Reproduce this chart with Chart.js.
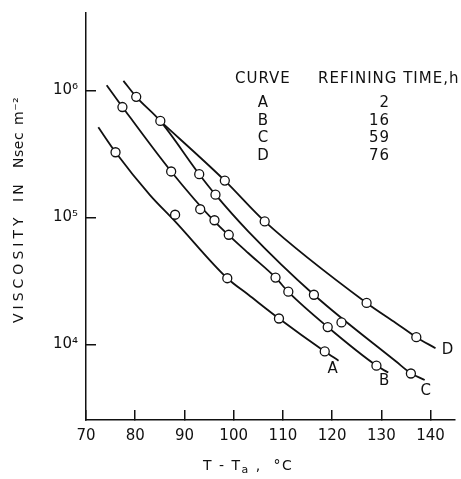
<!DOCTYPE html>
<html>
<head>
<meta charset="utf-8">
<script src="https://cdn.jsdelivr.net/npm/chart.js@4.4.1/dist/chart.umd.min.js"></script>
<style>
  html, body { margin: 0; padding: 0; background: #fff; }
  #wrap { width: 461px; height: 479px; position: relative; }
</style>
</head>
<body>
<div id="wrap"><canvas id="c" width="461" height="479"></canvas></div>
<script>
// ---- data ----
const curveNames = ['A', 'B', 'C', 'D'];
const refiningTimes = [2, 16, 59, 76];

const xTickValues = [70, 80, 90, 100, 110, 120, 130, 140];
const yTickValues = [1e4, 1e5, 1e6];
const yTickLabels = ['10⁴', '10⁵', '10⁶'];

// measured points (T - Tg in °C, viscosity in N s m^-2)
const aPtTemp = [76.0, 88.1, 98.7, 109.2, 118.5];
const aPtVisc = [3.26e5, 1.05e5, 3.32e4, 1.60e4, 8.8e3];
const bPtTemp = [77.4, 87.3, 93.2, 96.1, 99.0, 108.5, 111.1, 119.1, 129.0];
const bPtVisc = [7.4e5, 2.3e5, 1.16e5, 9.5e4, 7.3e4, 3.36e4, 2.6e4, 1.37e4, 6.8e3];
const cPtTemp = [80.2, 85.1, 93.0, 96.3, 116.3, 121.9, 136.0];
const cPtVisc = [8.9e5, 5.75e5, 2.19e5, 1.51e5, 2.46e4, 1.49e4, 5.9e3];
const dPtTemp = [98.2, 106.3, 127.0, 137.1];
const dPtVisc = [1.95e5, 9.3e4, 2.12e4, 1.14e4];

// drawn smooth curves
const aCurveTemp = [72.5, 76.0, 83.0, 88.0, 98.7, 103.0, 109.2, 118.5, 121.3];
const aCurveVisc = [5.13e5, 3.26e5, 1.5e5, 9.4e4, 3.32e4, 2.46e4, 1.6e4, 8.8e3, 7.45e3];
const bCurveTemp = [74.2, 77.4, 87.3, 96.1, 103.0, 108.5, 111.1, 119.1, 129.0, 131.4];
const bCurveVisc = [1.10e6, 7.41e5, 2.30e5, 9.3e4, 5.22e4, 3.36e4, 2.59e4, 1.37e4, 6.81e3, 6.0e3];
const cCurveTemp = [77.6, 80.2, 85.1, 93.0, 96.3, 103.0, 116.3, 133.0, 136.0, 138.8];
const cCurveVisc = [1.19e6, 8.9e5, 5.73e5, 2.19e5, 1.51e5, 7.73e4, 2.46e4, 7.33e3, 5.93e3, 5.25e3];
const dCurveTemp = [85.1, 98.2, 106.3, 127.0, 133.0, 137.1, 141.0];
const dCurveVisc = [5.73e5, 1.95e5, 9.31e4, 2.12e4, 1.47e4, 1.14e4, 9.33e3];

// ---- build datasets ----
const zip = (xs, ys) => xs.map((x, i) => ({ x: x, y: ys[i] }));
const ptSets = [[aPtTemp, aPtVisc], [bPtTemp, bPtVisc], [cPtTemp, cPtVisc], [dPtTemp, dPtVisc]];
const curveSets = [[aCurveTemp, aCurveVisc], [bCurveTemp, bCurveVisc], [cCurveTemp, cCurveVisc], [dCurveTemp, dCurveVisc]];

const datasets = [];
curveSets.forEach((s, i) => datasets.push({
  label: 'Curve ' + curveNames[i],
  data: zip(s[0], s[1]),
  showLine: true,
  borderColor: '#111',
  borderWidth: 1.8,
  pointRadius: 0,
  cubicInterpolationMode: 'monotone',
  order: 1
}));
ptSets.forEach((s, i) => datasets.push({
  label: 'Data ' + curveNames[i],
  data: zip(s[0], s[1]),
  showLine: false,
  pointRadius: 4.5,
  pointBackgroundColor: '#fff',
  pointBorderColor: '#111',
  pointBorderWidth: 1.3,
  order: 0
}));

const FONT = 'DejaVu Sans';
const INK = '#111';

const decor = {
  id: 'decor',
  afterDraw(chart) {
    const ctx = chart.ctx;
    const xs = chart.scales.x, ys = chart.scales.y;
    ctx.save();
    ctx.fillStyle = INK;
    // legend table
    ctx.font = '15px "' + FONT + '"';
    ctx.textBaseline = 'middle';
    ctx.textAlign = 'left';
    ctx.letterSpacing = '1px';
    ctx.fillText('CURVE', 235, 79);
    ctx.fillText('REFINING TIME,h', 318, 79);
    ctx.letterSpacing = '0px';
    const rowY = [103, 121, 138, 156];
    curveNames.forEach((n, i) => {
      ctx.textAlign = 'center';
      ctx.fillText(n, 263, rowY[i]);
      ctx.textAlign = 'right';
      ctx.letterSpacing = '1px';
      ctx.fillText(String(refiningTimes[i]), 390, rowY[i]);
      ctx.letterSpacing = '0px';
    });
    // curve labels near the end of each line
    const offs = [[-6, 8], [-4, 9], [1, 11], [12, 2]];
    ctx.textAlign = 'center';
    curveSets.forEach((s, i) => {
      const n = s[0].length - 1;
      const px = xs.getPixelForValue(s[0][n]);
      const py = ys.getPixelForValue(s[1][n]);
      ctx.fillText(curveNames[i], px + offs[i][0], py + offs[i][1]);
    });
    // x axis title
    ctx.textAlign = 'left';
    ctx.textBaseline = 'alphabetic';
    ctx.letterSpacing = '1.5px';
    let x = 203;
    ctx.font = '14px "' + FONT + '"';
    ctx.fillText('T - T', x, 470);
    x += ctx.measureText('T - T').width;
    ctx.font = '11px "' + FONT + '"';
    ctx.fillText('a', x, 473);
    x += ctx.measureText('a').width;
    ctx.font = '14px "' + FONT + '"';
    ctx.fillText(' ,  °C', x, 470);
    // y axis title, word by word
    ctx.translate(19, 0);
    ctx.rotate(-Math.PI / 2);
    ctx.textBaseline = 'middle';
    ctx.letterSpacing = '4px';
    ctx.fillText('VISCOSITY', -323, 0);
    ctx.letterSpacing = '3px';
    ctx.fillText('IN', -202, 0);
    ctx.letterSpacing = '0.5px';
    ctx.fillText('Nsec', -168, 0);
    ctx.fillText('m⁻²', -125, 0);
    ctx.restore();
  }
};

new Chart(document.getElementById('c'), {
  type: 'scatter',
  data: { datasets: datasets },
  options: {
    responsive: false,
    animation: false,
    devicePixelRatio: 1,
    layout: { padding: { top: 13, right: 1, left: 0, bottom: 0 } },
    plugins: { legend: { display: false }, tooltip: { enabled: false }, title: { display: false } },
    scales: {
      x: {
        type: 'linear',
        min: 70, max: 145,
        afterBuildTicks: s => { s.ticks = xTickValues.map(v => ({ value: v })); },
        afterFit: s => { s.height = 59; s.paddingLeft = 0; s.paddingRight = 0; },
        grid: { display: true, drawOnChartArea: false, drawTicks: true, tickLength: -10, color: INK, lineWidth: 1.5 },
        border: { display: true, color: INK, width: 1.5 },
        ticks: { color: INK, padding: 17, maxRotation: 0, font: { family: FONT, size: 15 } }
      },
      y: {
        type: 'logarithmic',
        min: 2540, max: 4.07e6,
        afterBuildTicks: s => { s.ticks = yTickValues.map(v => ({ value: v })); },
        afterFit: s => { s.width = 86; s.paddingTop = 0; s.paddingBottom = 0; },
        grid: { display: true, drawOnChartArea: false, drawTicks: true, tickLength: -10, color: INK, lineWidth: 1.5 },
        border: { display: true, color: INK, width: 1.5 },
        ticks: {
          color: INK, padding: 18, font: { family: FONT, size: 15 },
          callback: v => { const i = yTickValues.indexOf(v); return i >= 0 ? yTickLabels[i] : ''; }
        }
      }
    }
  },
  plugins: [decor]
});
</script>
</body>
</html>
